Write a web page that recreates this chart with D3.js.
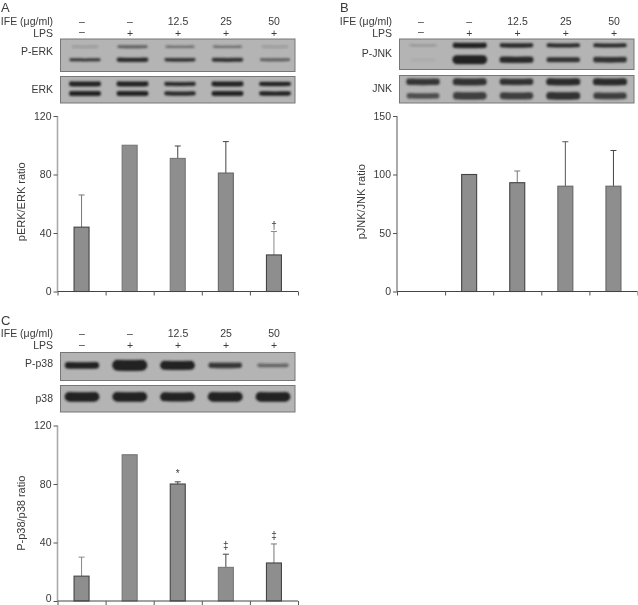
<!DOCTYPE html>
<html>
<head>
<meta charset="utf-8">
<script src="https://cdn.jsdelivr.net/npm/d3@7/dist/d3.min.js"></script>
<style>
html,body{margin:0;padding:0;background:#fff}
svg{display:block}
text{font-family:"Liberation Sans",Arial,sans-serif;fill:#3a3a3a}
</style>
</head>
<body>
<svg id="chart" width="638" height="605"></svg>
<script>
// ---- data ----
const categories = ["a","b","c","d","e"];
const ifeLabels = ["–","–","12.5","25","50"];
const lpsLabels = ["–","+","+","+","+"];

const erkValues = [44,100,91,81,25];
const erkErrors = [22,0,8.5,21.5,16];
const erkMarks  = ["","","","","†"];

const jnkValues = [null,100,93,90,90];
const jnkErrors = [0,0,10,38,30.5];
const jnkMarks  = ["","","","",""];

const p38Values = [17,100,80,23,26];
const p38Errors = [13,0,1.5,9,13];
const p38Marks  = ["","","*","‡","‡"];

// band strength per lane (opacity) and band thickness per lane
const pErkUpperStrength = [.22,.65,.5,.5,.22];
const pErkUpperSize     = [2,2.6,2.4,2.4,2];
const pErkLowerStrength = [.85,.95,.85,.9,.65];
const pErkLowerSize     = [3,4.4,3.6,4,2.6];
const erkUpperStrength  = [1,1,.95,1,1];
const erkUpperSize      = [5,5,4.2,5,4.4];
const erkLowerStrength  = [1,1,.95,1,1];
const erkLowerSize      = [5,5,4.2,5,4.4];

const pJnkUpperStrength = [.2,1,.95,.95,.95];
const pJnkUpperSize     = [2,5.4,4.4,4,4];
const pJnkLowerStrength = [.07,1,.95,.9,.9];
const pJnkLowerSize     = [2,9,6.4,5,5.6];
const jnkUpperStrength  = [.85,.9,.9,.95,.95];
const jnkUpperSize      = [6.4,7,6.4,7,7];
const jnkLowerStrength  = [.7,.8,.8,.9,.8];
const jnkLowerSize      = [5.6,7.4,7,7.4,6.4];

const pP38Strength = [1,1,1,.85,.55];
const pP38Size     = [6.6,11,9,5.4,3.6];
const p38Strength  = [1,1,1,1,1];
const p38Size      = [9.6,9.6,9,9.6,9.6];

// ---- drawing ----
const svg = d3.select("#chart");
const defs = svg.append("defs");
defs.append("filter").attr("id","blur").attr("filterUnits","userSpaceOnUse")
  .attr("x",0).attr("y",0).attr("width",638).attr("height",605)
  .append("feGaussianBlur").attr("stdDeviation",1);
defs.append("filter").attr("id","soft").attr("filterUnits","userSpaceOnUse")
  .attr("x",0).attr("y",0).attr("width",638).attr("height",605)
  .append("feGaussianBlur").attr("stdDeviation",0.25);

const tickValuesFor = m => d3.range(0, m + 1, m === 120 ? 40 : 50);
const bandLine = d3.line().curve(d3.curveBasis);

function blot(g, b, lane, laneW) {
  const row = d3.scaleLinear().domain([0,1]).range([b.y0,b.y1]);
  g.append("rect").attr("x",b.x0).attr("y",b.y0).attr("width",b.x1-b.x0).attr("height",b.y1-b.y0)
    .attr("fill","#b4b4b4").attr("stroke","#777").attr("stroke-width",1);
  const bg = g.append("g").attr("filter","url(#blur)");
  b.bands.forEach(band => {
    categories.forEach((c,i) => {
      const cx = lane(c), yy = row(band.at), w = laneW*band.strength[i]**0.12 - band.size[i]*0.8;
      bg.append("path")
        .attr("d", bandLine([[cx-w/2,yy+0.2],[cx-w/4,yy+0.4],[cx,yy+0.4],[cx+w/4,yy+0.4],[cx+w/2,yy+0.2]]))
        .attr("fill","none").attr("stroke","#222").attr("stroke-linecap","round")
        .attr("stroke-width",band.size[i]).attr("stroke-opacity",band.strength[i]);
    });
  });
}

function panel(p) {
  const g = svg.append("g");
  const textG = svg.append("g").attr("filter","url(#soft)");
  const x = d3.scaleBand().domain(categories).range([p.x0,p.x1]);
  const y = d3.scaleLinear().domain([0,p.max]).range([p.y0,p.y1]);
  const lane = d3.scalePoint().domain(categories).range(p.laneExtent);
  const labelX = d3.scalePoint().domain(categories).range(p.labelExtent);

  textG.append("text").attr("x",p.letterX).attr("y",p.letterY).attr("font-size",13).text(p.letter);
  textG.append("text").attr("x",p.labelRight).attr("y",p.headY).attr("text-anchor","end").attr("font-size",10.5).text("IFE (μg/ml)");
  textG.append("text").attr("x",p.labelRight).attr("y",p.headY+12).attr("text-anchor","end").attr("font-size",10.5).text("LPS");
  categories.forEach((c,i) => {
    textG.append("text").attr("x",labelX(c)).attr("y",p.headY).attr("text-anchor","middle").attr("font-size",10.5).text(ifeLabels[i]);
    textG.append("text").attr("x",labelX(c)).attr("y",p.headY+(i===0?10.5:12)).attr("text-anchor","middle").attr("font-size",10.5).text(lpsLabels[i]);
  });
  p.blots.forEach(b => {
    const full = Object.assign({x0:p.blotX0,x1:p.blotX1},b);
    blot(g,full,lane,p.laneW);
    textG.append("text").attr("x",p.labelRight).attr("y",(b.y0+b.y1)/2+b.ldy).attr("text-anchor","end")
      .attr("font-size",10.5).text(b.label);
  });

  // bars
  const w = 15;
  const barsG = g.append("g");
  categories.forEach((c,i) => {
    const v = p.values[i];
    if (v === null) return;
    const cx = x(c)+x.bandwidth()/2;
    if (p.errors[i] > 0) {
      const t = y(v+p.errors[i]);
      barsG.append("line").attr("x1",cx).attr("x2",cx).attr("y1",y(v)).attr("y2",t).attr("stroke",p.errColor[i]).attr("stroke-width",1);
      barsG.append("line").attr("x1",cx-3).attr("x2",cx+3).attr("y1",t).attr("y2",t).attr("stroke",p.errColor[i]).attr("stroke-width",1);
    }
    barsG.append("rect").attr("x",cx-w/2).attr("y",y(v)).attr("width",w).attr("height",y(0)-y(v))
      .attr("fill","#8e8e8e").attr("stroke",p.barStroke[i]).attr("stroke-width",1.1);
    if (p.marks[i]) {
      textG.append("text").attr("x",cx).attr("y",y(v+p.errors[i])-p.markGap).attr("text-anchor","middle")
        .attr("font-size",10).text(p.marks[i]);
    }
  });

  // axes
  const yAxis = d3.axisLeft(y).tickValues(tickValuesFor(p.max)).tickSize(4).tickPadding(2).tickFormat(d3.format("d"));
  const yg = g.append("g").attr("transform",`translate(${p.x0},0)`).call(yAxis);
  yg.selectAll("line").attr("stroke","#555");
  yg.select(".domain").attr("stroke",p.yAxisColor).attr("stroke-width",p.yAxisW).attr("d",`M0,${p.y1}V${p.y0}`);
  yg.selectAll("text").remove();
  tickValuesFor(p.max).forEach(t => {
    textG.append("text").attr("x",p.x0-6).attr("y",Math.min(y(t)+3.6,p.tickMaxY)).attr("text-anchor","end").attr("font-size",10.5).text(d3.format("d")(t));
  });

  const edges = categories.map(c=>x(c)).concat([p.x1]);
  const xAxis = d3.axisBottom(d3.scaleLinear().domain([p.x0,p.x1]).range([p.x0,p.x1]))
    .tickValues(edges).tickSize(4).tickFormat("");
  const xg = g.append("g").attr("transform",`translate(0,${p.y0})`).call(xAxis);
  xg.selectAll("line").attr("stroke","#555");
  xg.select(".domain").attr("stroke","#444").attr("stroke-width",1).attr("d",`M${p.x0},0H${p.x1}`);

  textG.append("text").attr("transform",`translate(${p.titleX},${(p.y0+p.y1)/2+p.titleDy}) rotate(-90)`)
    .attr("text-anchor","middle").attr("font-size",11).text(p.title);
}

panel({
  letter:"A", letterX:1, letterY:11.9, headY:24.5, labelRight:53,
  labelExtent:[82,274], laneExtent:[85,275], laneW:31, blotX0:60.5, blotX1:295,
  blots:[
    {label:"P-ERK", y0:39, y1:71.5, ldy:0, bands:[
      {at:.23,strength:pErkUpperStrength,size:pErkUpperSize},
      {at:.63,strength:pErkLowerStrength,size:pErkLowerSize}]},
    {label:"ERK", y0:76.5, y1:103, ldy:3, bands:[
      {at:.27,strength:erkUpperStrength,size:erkUpperSize},
      {at:.63,strength:erkLowerStrength,size:erkLowerSize}]}
  ],
  x0:57.5, x1:298, y0:291.5, y1:116, max:120, tickMaxY:999,
  values:erkValues, errors:erkErrors, marks:erkMarks, markGap:3,
  errColor:["#777","#444","#444","#444","#888"], barStroke:["#444","#777","#777","#666","#444"],
  yAxisColor:"#aaa", yAxisW:1.6, title:"pERK/ERK ratio", titleX:25, titleDy:-2
});
panel({
  letter:"B", letterX:340, letterY:11.9, headY:24.5, labelRight:392,
  labelExtent:[421,614], laneExtent:[423,610], laneW:33, blotX0:399.5, blotX1:634,
  blots:[
    {label:"P-JNK", y0:39, y1:69.5, ldy:3, bands:[
      {at:.2,strength:pJnkUpperStrength,size:pJnkUpperSize},
      {at:.67,strength:pJnkLowerStrength,size:pJnkLowerSize}]},
    {label:"JNK", y0:75.5, y1:103, ldy:3, bands:[
      {at:.22,strength:jnkUpperStrength,size:jnkUpperSize},
      {at:.73,strength:jnkLowerStrength,size:jnkLowerSize}]}
  ],
  x0:397, x1:637.5, y0:291.5, y1:116, max:150, tickMaxY:999,
  values:jnkValues, errors:jnkErrors, marks:jnkMarks, markGap:3,
  errColor:["#444","#444","#777","#555","#444"], barStroke:["#444","#444","#444","#666","#666"],
  yAxisColor:"#555", yAxisW:1, title:"pJNK/JNK ratio", titleX:365, titleDy:-2
});
panel({
  letter:"C", letterX:1, letterY:325, headY:337, labelRight:53,
  labelExtent:[82,274], laneExtent:[82,273], laneW:33, blotX0:60.5, blotX1:295,
  blots:[
    {label:"P-p38", y0:352.5, y1:380.5, ldy:0, bands:[
      {at:.45,strength:pP38Strength,size:pP38Size}]},
    {label:"p38", y0:385.5, y1:412, ldy:3, bands:[
      {at:.42,strength:p38Strength,size:p38Size}]}
  ],
  x0:57.5, x1:298, y0:601, y1:425.5, max:120, tickMaxY:602,
  values:p38Values, errors:p38Errors, marks:p38Marks, markGap:5,
  errColor:["#888","#444","#444","#444","#777"], barStroke:["#444","#777","#444","#777","#444"],
  yAxisColor:"#aaa", yAxisW:1.6, title:"P-p38/p38 ratio", titleX:25, titleDy:0
});
</script>
</body>
</html>
